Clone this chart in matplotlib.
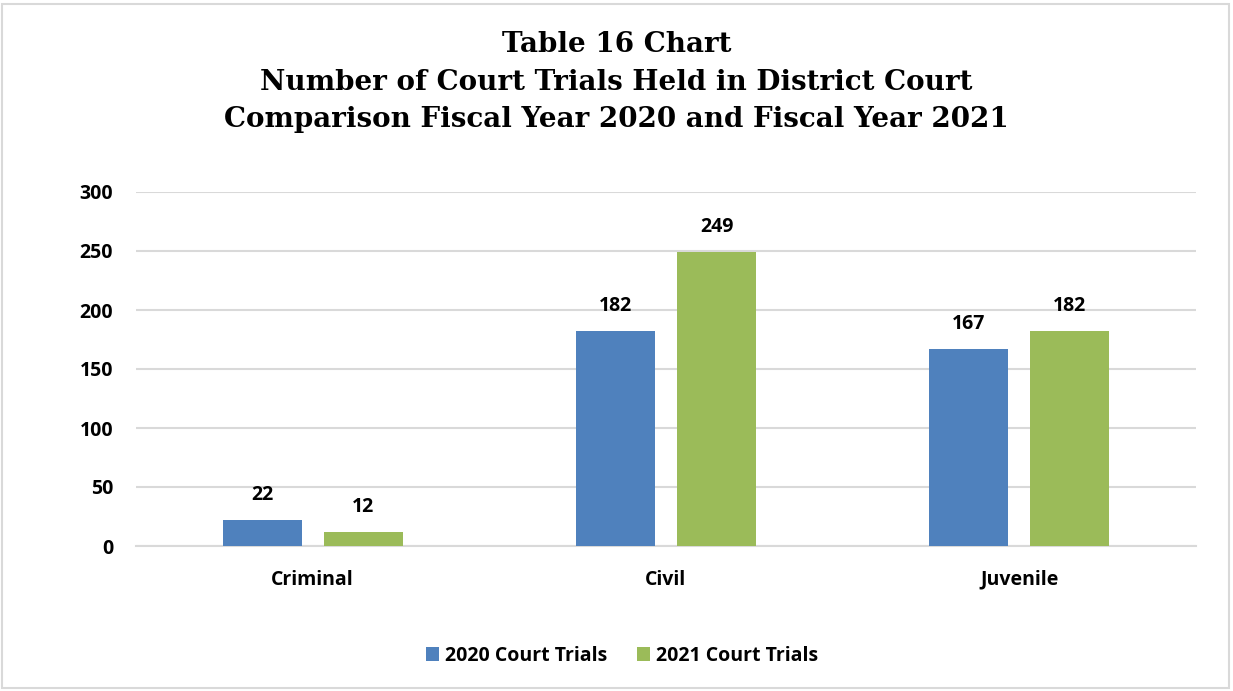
import matplotlib.pyplot as plt
import numpy as np
from matplotlib.patches import Rectangle

categories = ["Criminal", "Civil", "Juvenile"]
series_names = ["2020 Court Trials", "2021 Court Trials"]
trials_2020 = [22, 182, 167]
trials_2021 = [12, 249, 182]
y_ticks = [0, 50, 100, 150, 200, 250, 300]
title_lines = ["Table 16 Chart",
               "Number of Court Trials Held in District Court",
               "Comparison Fiscal Year 2020 and Fiscal Year 2021"]

blue = "#4f81bd"
green = "#9bbb59"
grid_col = "#d9d9d9"
sans = ["Open Sans", "DejaVu Sans"]

fig = plt.figure(figsize=(12.33, 6.91), dpi=100)
ax = fig.add_axes([136 / 1233, 1 - 546 / 691, 1060 / 1233, 354 / 691])

x = np.arange(len(categories))
w = 0.224
off = 0.143
b1 = ax.bar(x - off, trials_2020, w, color=blue, label=series_names[0], zorder=3)
b2 = ax.bar(x + off, trials_2021, w, color=green, label=series_names[1], zorder=3)

for bars in (b1, b2):
    for rect in bars:
        h = rect.get_height()
        ax.annotate(f"{h:g}", (rect.get_x() + rect.get_width() / 2, h),
                    xytext=(0, 18), textcoords="offset points",
                    ha="center", va="center", fontsize=14,
                    fontweight="bold", family=sans)

ax.set_xlim(-0.5, 2.5)
ax.set_ylim(0, 300)
ax.set_yticks(y_ticks)
ax.set_xticks(x)
ax.set_xticklabels(categories)
ax.yaxis.grid(True, color=grid_col, linewidth=1.5, zorder=0)
ax.set_axisbelow(True)
for s in ("top", "right", "left"):
    ax.spines[s].set_visible(False)
ax.spines["bottom"].set_color(grid_col)
ax.spines["bottom"].set_linewidth(1.5)
ax.tick_params(axis="both", length=0, labelsize=14)
ax.tick_params(axis="y", pad=16.5)
ax.tick_params(axis="x", pad=17)
for lab in ax.get_xticklabels() + ax.get_yticklabels():
    lab.set_fontweight("bold")
    lab.set_family(sans)

fig.text(0.5, 1 - 82 / 691, "\n".join(title_lines), ha="center", va="center",
         fontsize=20, fontweight="bold", family="DejaVu Serif", linespacing=1.5)

leg = fig.legend(loc="center", bbox_to_anchor=(622 / 1233, 1 - 656 / 691), ncol=2,
                 frameon=False, prop={"family": sans, "weight": "bold", "size": 14},
                 handlelength=0.7, handleheight=0.7, handletextpad=0.3, columnspacing=1.5)

fig.patches.append(Rectangle((2 / 1233, 3 / 691), 1227 / 1233, 684 / 691,
                             transform=fig.transFigure, fill=False,
                             edgecolor=grid_col, linewidth=1.5))

fig.savefig("out.png", dpi=100, facecolor="white")
